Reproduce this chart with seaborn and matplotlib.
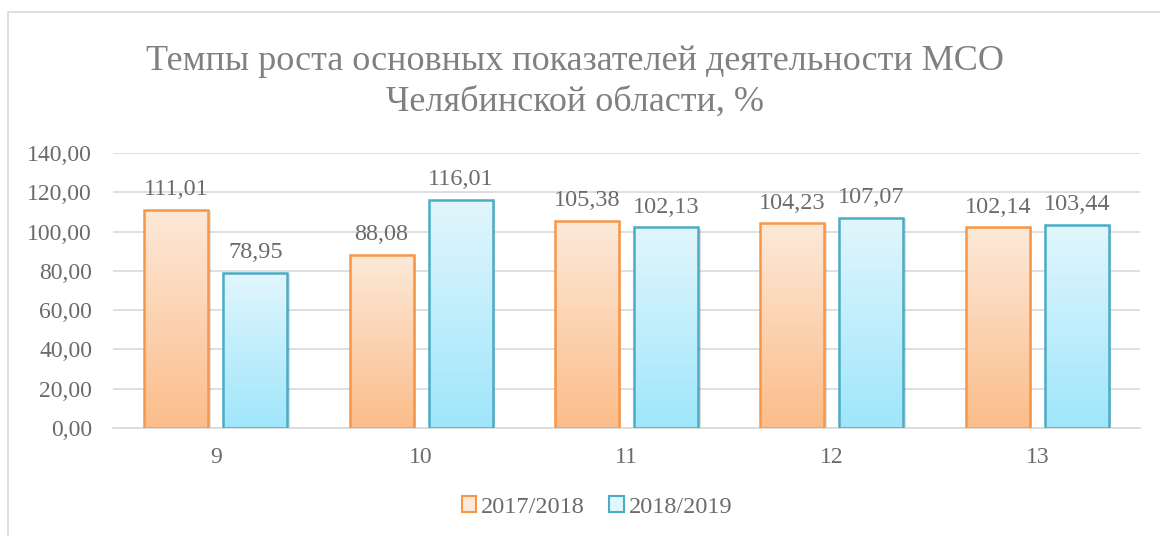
import numpy as np
import pandas as pd
import matplotlib
matplotlib.use("Agg")
import matplotlib.pyplot as plt
import seaborn as sns
from matplotlib.colors import LinearSegmentedColormap
from matplotlib.patches import Patch, Rectangle

categories = ["9", "10", "11", "12", "13"]
series_names = ["2017/2018", "2018/2019"]
values_2017_2018 = [111.01, 88.08, 105.38, 104.23, 102.14]
values_2018_2019 = [78.95, 116.01, 102.13, 107.07, 103.44]
y_ticks = [0, 20, 40, 60, 80, 100, 120, 140]

title = "Темпы роста основных показателей деятельности МСО\nЧелябинской области, %"

df = pd.DataFrame({
    "cat": categories * 2,
    "series": [series_names[0]] * 5 + [series_names[1]] * 5,
    "value": values_2017_2018 + values_2018_2019,
})

edge_colors = {series_names[0]: "#f79646", series_names[1]: "#4bacc6"}
grad_colors = {
    series_names[0]: ("#fde9d9", "#fbbd8a"),
    series_names[1]: ("#e2f6fd", "#9fe6fb"),
}

sns.set_theme(style="white")
plt.rcParams["font.family"] = ["Liberation Serif", "DejaVu Serif"]
text_color = "#6b6b6b"
title_color = "#808080"

fig = plt.figure(figsize=(11.6, 5.36), dpi=100)
ax = fig.add_axes([113 / 1160, 1 - 428 / 536, 1027 / 1160, 275 / 536])

sns.barplot(data=df, x="cat", y="value", hue="series", order=categories,
            hue_order=series_names, palette=edge_colors, width=0.77, gap=0.19,
            ax=ax, legend=False, saturation=1)

# gradient fill for every bar, clipped to the bar shape
n = len(categories)
for i, bar in enumerate(ax.patches[:2 * n]):
    s = series_names[i // n]
    top_c, bot_c = grad_colors[s]
    cmap = LinearSegmentedColormap.from_list(s, [bot_c, top_c])
    x0, y0 = bar.get_x(), bar.get_y()
    w, h = bar.get_width(), bar.get_height()
    bar.set_facecolor("none")
    bar.set_edgecolor(edge_colors[s])
    bar.set_linewidth(1.8)
    bar.set_zorder(3)
    # soft shadow
    shadow = Rectangle((x0 + 0.012, y0), w, h - 0.6, facecolor="#000000",
                       alpha=0.12, edgecolor="none", zorder=1.5)
    ax.add_patch(shadow)
    grad = np.linspace(0, 1, 256).reshape(-1, 1)
    im = ax.imshow(grad, cmap=cmap, aspect="auto", origin="lower",
                   extent=(x0, x0 + w, y0, y0 + h), zorder=2)
    im.set_clip_path(bar)
    ax.annotate(f"{h:.2f}".replace(".", ","), (x0 + w / 2, y0 + h),
                xytext=(0, 7), textcoords="offset points", ha="center",
                va="bottom", fontsize=17.5, color=text_color)

ax.set_xlim(-0.5, n - 0.5)
ax.set_ylim(0, 140)
ax.set_yticks(y_ticks)
ax.set_yticklabels([f"{v:.2f}".replace(".", ",") for v in y_ticks])
ax.set_xlabel("")
ax.set_ylabel("")
ax.grid(axis="y", color="#d9d9d9", linewidth=1.2, zorder=0)
ax.set_axisbelow(True)
for side in ["top", "right", "left"]:
    ax.spines[side].set_visible(False)
ax.spines["bottom"].set_color("#d9d9d9")
ax.spines["bottom"].set_linewidth(1.2)
ax.tick_params(axis="both", length=0, labelsize=17, labelcolor=text_color)
ax.tick_params(axis="x", pad=14)
ax.tick_params(axis="y", pad=15)

fig.text(0.496, 1 - 82 / 536, title, ha="center", va="center",
         fontsize=26, color=title_color, linespacing=1.3)

handles = [Patch(facecolor=grad_colors[s][0], edgecolor=edge_colors[s],
                 linewidth=1.5, label=s) for s in series_names]
fig.legend(handles=handles, loc="center", bbox_to_anchor=(597 / 1160, 1 - 507 / 536),
           ncol=2, frameon=False, fontsize=17.5, handlelength=0.6,
           handleheight=0.6, handletextpad=0.2, columnspacing=1.0,
           labelcolor=text_color)

# chart frame
fig.patches.append(Rectangle((8 / 1160, -0.05), 1.2, 1 - 12 / 536 + 0.05,
                             transform=fig.transFigure, facecolor="none",
                             edgecolor="#d9d9d9", linewidth=1.2))

fig.savefig("out.png", dpi=100)
